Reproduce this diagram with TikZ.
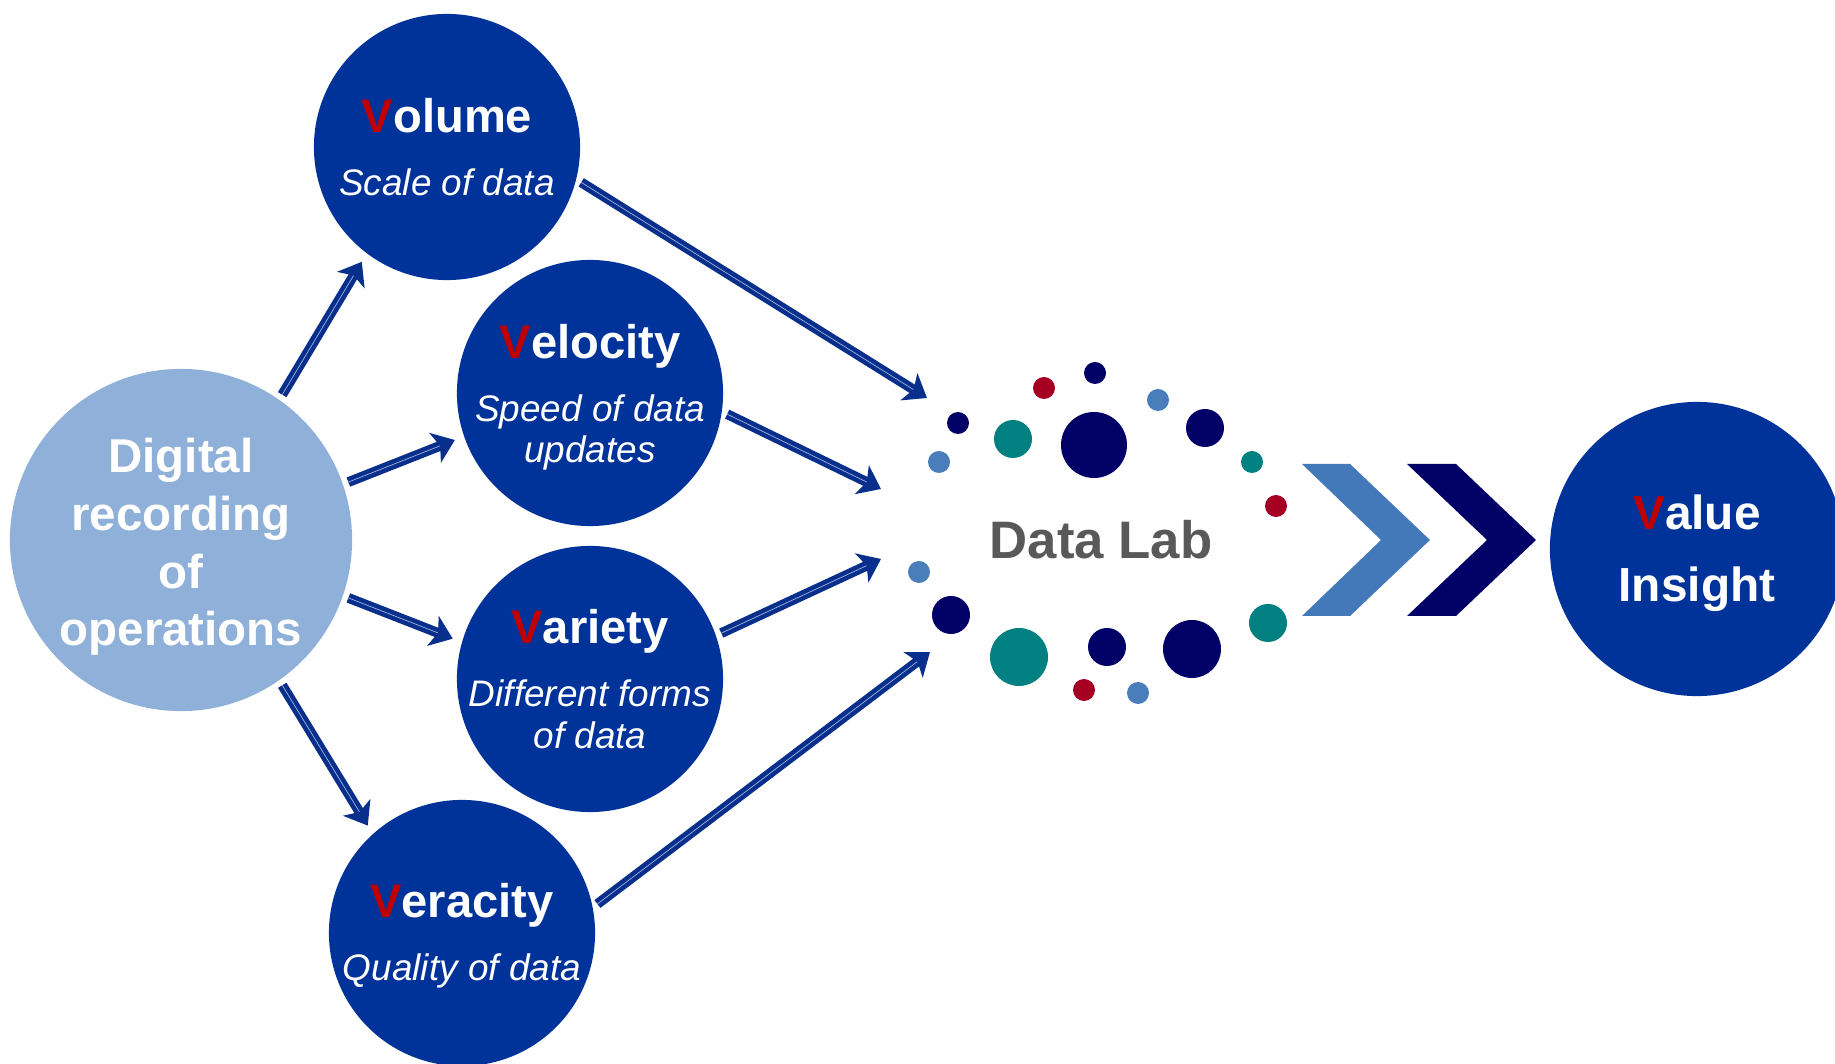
\documentclass[tikz,border=0pt]{standalone}
\usepackage{fontspec}
\setmainfont{Liberation Sans}
\usetikzlibrary{arrows.meta}
\definecolor{VBlue}{HTML}{003399}
\definecolor{VLight}{HTML}{8FB0D8}
\definecolor{VRed}{HTML}{C00000}
\definecolor{FlowBlue}{HTML}{082F8C}
\definecolor{FlowInner}{HTML}{9FB3E0}
\definecolor{DotNavy}{HTML}{000066}
\definecolor{DotTeal}{HTML}{008080}
\definecolor{DotRed}{HTML}{A50021}
\definecolor{DotSky}{HTML}{4A7EBB}
\definecolor{ChevLight}{HTML}{4379B8}
\definecolor{LabGray}{HTML}{595959}
\newcommand{\RedV}{\textcolor{VRed}{V}}
\newcommand{\vttl}[1]{{\fontsize{13.4}{16}\selectfont\upshape\bfseries #1}}
\tikzset{
	vcircle/.style={circle, fill=VBlue, minimum size=2.66cm, inner sep=0pt, outer sep=0pt},
	vtext/.style={text=white, align=center, font=\fontsize{10.5}{11.7}\selectfont\itshape},
	flow/.style={draw=FlowBlue, line width=1.3pt, double=FlowInner, double distance=0.2pt, -{Stealth[length=6pt,width=9pt,inset=1.5pt]}, shorten <=0.06cm},
}

\begin{document}
\begin{tikzpicture}[x=0.01cm, y=-0.01cm]
		% Frame
		\fill[white] (0,0) rectangle (1835,1064);
		\useasboundingbox (0,0) rectangle (1835,1064);
		\clip (0,0) rectangle (1835,1064);
		
		% Circles
		\node[circle, fill=VLight, minimum size=3.42cm, inner sep=0pt, outer sep=0pt] (dig) at (181,540) {};
		\node[vcircle] (vol) at (447,147) {};
		\node[vcircle] (vel) at (590,393) {};
		\node[vcircle] (var) at (590,679) {};
		\node[vcircle] (ver) at (462,933) {};
		\node[circle, fill=VBlue, minimum size=2.94cm, inner sep=0pt, outer sep=0pt] (val) at (1697,549) {};
		
		% Texts
		\node[text=white, align=center, font=\fontsize{13.5}{16.4}\selectfont\bfseries, yshift=-0.07cm] (dig-t) at (dig) {Digital\\recording\\of\\operations};
		\node[vtext] (vol-t) at (vol) {\vttl{\RedV olume}\\[6.3pt]Scale of data};
		\node[vtext, yshift=-0.04cm] (vel-t) at (vel) {\vttl{\RedV elocity}\\[6.3pt]Speed of data\\updates};
		\node[vtext] (var-t) at (var) {\vttl{\RedV ariety}\\[6.3pt]Different forms\\of data};
		\node[vtext, yshift=-0.03cm] (ver-t) at (ver) {\vttl{\RedV eracity}\\[6.3pt]Quality of data};
		\node[text=white, align=center, font=\fontsize{13.6}{20.6}\selectfont\bfseries, yshift=-0.04cm] (val-t) at (val) {\RedV alue\\Insight};
		\node[text=LabGray, font=\fontsize{15}{18}\selectfont\bfseries] (lab) at (1101,540) {Data Lab};
		
		% Dots
		\foreach \col/\x/\y/\r in {DotNavy/958/423/11, DotSky/939/462/11, DotTeal/1013/439/19, DotRed/1044/388/11,
			DotNavy/1095/373/11, DotNavy/1094/445/33, DotSky/1158/400/11, DotNavy/1205/428/19, DotTeal/1252/462/11,
			DotRed/1276/506/11, DotSky/919/572/11, DotNavy/951/615/19, DotTeal/1019/657/29, DotRed/1084/690/11,
			DotNavy/1107/647/19, DotSky/1138/693/11, DotNavy/1192/649/29, DotTeal/1268/623/19}
			\fill[\col] (\x,\y) circle (\r);
		
		% Chevrons
		\fill[ChevLight] (1302,464) -- (1350,464) -- (1430,540) -- (1350,616) -- (1302,616) -- (1381,540) -- cycle;
		\fill[DotNavy] (1407,464) -- (1456,464) -- (1536,540) -- (1456,616) -- (1407,616) -- (1487,540) -- cycle;
		
		% Arrows
		\begin{scope}[shorten >=0.1cm]
			\draw[flow] (dig.55) -- (vol.233);
			\draw[flow] (dig.19) -- (vel.199);
			\draw[flow] (dig.-19) -- (var.164);
			\draw[flow] (dig.-55) -- (ver.132);
		\end{scope}
		\coordinate (in1) at (927,398);
		\coordinate (in2) at (881,489);
		\coordinate (in3) at (881,559);
		\coordinate (in4) at (930,652);
		\draw[flow] (vol.-14) -- (in1);
		\draw[flow] (vel.-8) -- (in2);
		\draw[flow] (var.19) -- (in3);
		\draw[flow] (ver.11) -- (in4);
	\end{tikzpicture}
\end{document}
